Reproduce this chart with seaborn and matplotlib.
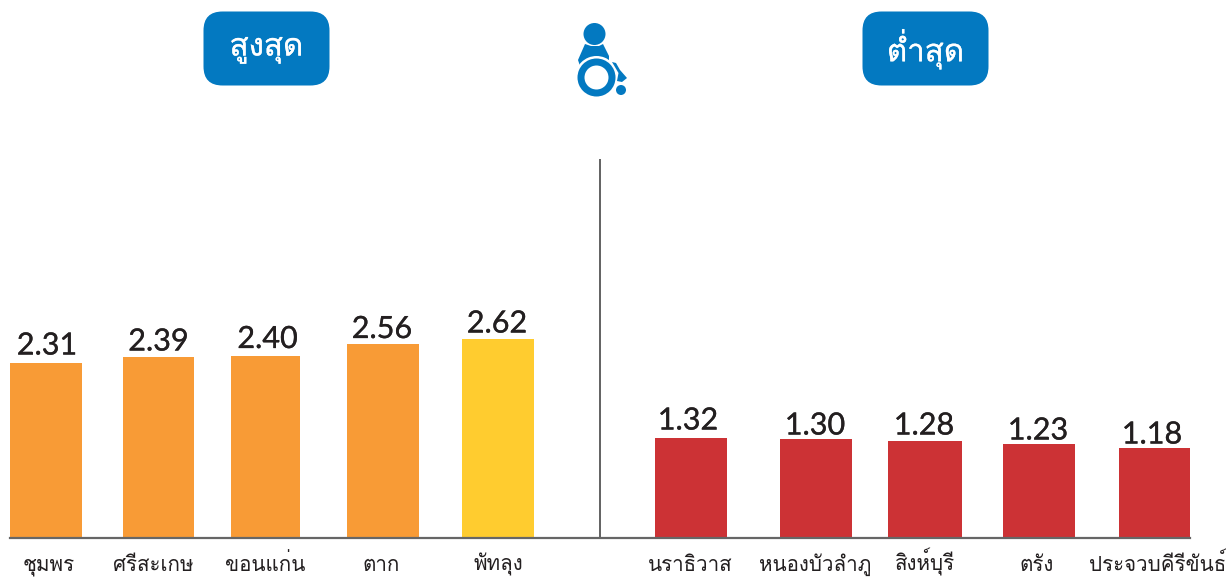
import matplotlib
matplotlib.use("Agg")
import matplotlib.pyplot as plt
from matplotlib import font_manager as fm
from matplotlib.ft2font import FT2Font
from matplotlib.patches import FancyBboxPatch, Circle, Wedge, Polygon
import matplotlib.patheffects as pe
import seaborn as sns
import pandas as pd

high_names = ["ชุมพร", "ศรีสะเกษ", "ขอนแก่น", "ตาก", "พัทลุง"]
high_values = [2.31, 2.39, 2.40, 2.56, 2.62]
low_names = ["นราธิวาส", "หนองบัวลำภู", "สิงห์บุรี", "ตรัง", "ประจวบคีรีขันธ์"]
low_values = [1.32, 1.30, 1.28, 1.23, 1.18]
titles = ["สูงสุด", "ต่ำสุด"]

# layout (pixels)
high_x = [46, 158.5, 265.5, 383, 498]
low_x = [691, 816, 925, 1039, 1154]
high_w = [72, 71, 69, 72, 72]
low_w = [72, 72, 74, 72, 71]
label_x = [47, 158.5, 267.5, 382, 497, 688, 815, 924, 1038, 1152]
label_y = [343, 339, 336.5, 326.5, 321, 418, 423, 423, 428, 432]
tick_x = [49, 153, 265, 381, 498, 690, 815, 925, 1037, 1158]

thai = []
seen = set()
for f in fm.fontManager.ttflist:
    try:
        if 0x0E2A in FT2Font(f.fname).get_charmap() and f.name not in seen:
            seen.add(f.name)
            thai.append(f.name)
    except Exception:
        pass
thai_family = (thai + ["DejaVu Sans"])[0]

sns.set_theme(style="white")
plt.rcParams["font.family"] = ["Lato", "DejaVu Sans"]

W, H = 1226, 577
BASE = 537.5
SCALE = 75.7
fig = plt.figure(figsize=(W / 100, H / 100), dpi=100)
ax = fig.add_axes([0, 0, 1, 1])

df = pd.DataFrame({
    "x": high_x + low_x,
    "v": high_values + low_values,
    "name": high_names + low_names,
})
colors = ["#F89B36"] * 4 + ["#FFCC2F"] + ["#CC3235"] * 5
sns.barplot(data=df, x="x", y="v", native_scale=True, ax=ax, width=72,
            hue="x", palette=dict(zip(df["x"], colors)), legend=False, saturation=1)

ax.set_xlim(0, W)
ax.set_ylim((BASE - H) / SCALE, BASE / SCALE)


def py(p):
    return (BASE - p) / SCALE


bars = [b for b in ax.patches if b.get_height() > 0]
bars.sort(key=lambda b: b.get_x())
for b, cx, w, v, lx, ly in zip(bars, df["x"], high_w + low_w, df["v"], label_x, label_y):
    b.set_x(cx - w / 2)
    b.set_width(w)
    b.set_linewidth(0)
    ax.text(lx, py(ly), f"{v:.2f}", ha="center", va="center_baseline", fontsize=22,
            color="#231F20", family="Lato",
            path_effects=[pe.withStroke(linewidth=0.2, foreground="#231F20")])

for s in ["top", "left", "right"]:
    ax.spines[s].set_visible(False)
ax.spines["bottom"].set_position(("data", 0))
ax.spines["bottom"].set_bounds(10, 1190)
ax.spines["bottom"].set_color("#666666")
ax.spines["bottom"].set_linewidth(1.6)
ax.set_xlabel("")
ax.set_ylabel("")
ax.set_yticks([])
ax.set_xticks(tick_x)
ax.set_xticklabels(df["name"], family=thai_family, fontsize=14.8, color="#231F20",
                   va="baseline")
ax.tick_params(axis="x", length=0, pad=24)
ax.patch.set_alpha(0)

ax.plot([600, 600], [py(159), 0], color="#555555", lw=1.3, solid_capstyle="butt")

BLUE = "#0379C1"
ov = fig.add_axes([0, 0, 1, 1], facecolor="none")
ov.set_xlim(0, W)
ov.set_ylim(H, 0)
ov.axis("off")
for x0, x1, t in [(203.5, 329.5, titles[0]), (862.5, 988.5, titles[1])]:
    ov.add_patch(FancyBboxPatch((x0 + 19, 11.5 + 19), x1 - x0 - 38, 74 - 38,
                                boxstyle="round,pad=19,rounding_size=19",
                                fc=BLUE, ec="none"))
    ov.text((x0 + x1) / 2, 49, t, ha="center", va="center", color="white",
            fontsize=22.5, family=thai_family,
            path_effects=[pe.withStroke(linewidth=0.2, foreground="white")])

# wheelchair icon
ov.add_patch(Circle((594.5, 34), 11, fc=BLUE, ec="none"))
ov.add_patch(Polygon([(585, 44), (591, 46), (599, 46), (603, 44), (609, 56), (609, 66),
                      (580, 66), (578, 60)], fc=BLUE, ec="none"))
ov.add_patch(Wedge((596.5, 77.5), 21.5, 0, 360, fc="white", ec="none"))
ov.add_patch(Wedge((596.5, 77.5), 19, 0, 360, width=7, fc=BLUE, ec="none"))
ov.add_patch(Polygon([(612, 62), (616, 63), (620, 70), (627, 78), (622, 82),
                      (617, 81), (618.5, 73)], fc=BLUE, ec="none"))
ov.add_patch(Circle((621, 90), 5, fc=BLUE, ec="none"))

fig.savefig("out.png", dpi=100)
